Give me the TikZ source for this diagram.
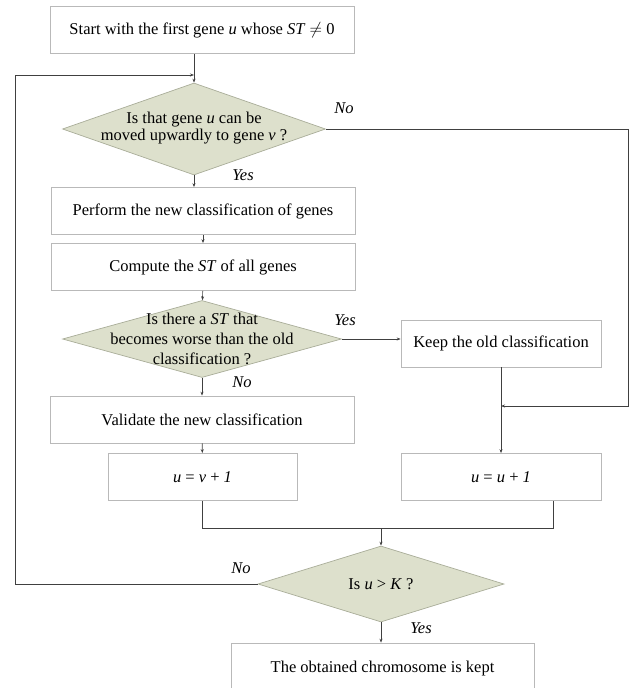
\documentclass[tikz,border=0pt]{standalone}
\usepackage{amsmath}
\usepackage{amssymb}
\usepackage{fontspec}
\setmainfont{Liberation Serif}
\usetikzlibrary{shapes.geometric,arrows.meta}
\definecolor{decfill}{HTML}{DDE0CC}
\definecolor{decline}{HTML}{A9AD99}
\tikzset{
  stepbox/.style={draw=gray!55,line width=0.7pt,fill=white,minimum width=304pt,minimum height=47pt,inner sep=0pt},
  decbox/.style={diamond,draw=decline,line width=0.7pt,fill=decfill,inner sep=0pt},
  dectext/.style={align=center,inner sep=0pt},
  flow/.style={draw=black!75,line width=0.7pt,-{Stealth[length=4pt,width=3pt]}},
  link/.style={draw=black!75,line width=0.7pt},
  answer/.style={font=\fontsize{16.5}{18}\selectfont\itshape,inner sep=0pt}
}
\begin{document}
\begin{tikzpicture}[x=1pt,y=-1pt,font=\fontsize{16.5}{19}\selectfont]
        \useasboundingbox (0,0) rectangle (636,688);
        \clip (0,0) rectangle (636,688);
        % left column
        \node[stepbox] (start) at (202,30) {Start with the first gene \textit{u} whose \textit{ST} $\neq$ 0};
        \node[decbox,minimum width=263pt,minimum height=92pt] (q1) at (194,129) {};
        \node[dectext,font=\fontsize{16.5}{16.5}\selectfont] (q1t) at (194,128) {Is that gene \textit{u} can be\\moved upwardly to gene \textit{v} ?};
        \node[stepbox] (perform) at (203,211) {Perform the new classification of genes};
        \node[stepbox] (compute) at (203,267) {Compute the \textit{ST} of all genes};
        \node[decbox,minimum width=279pt,minimum height=77pt] (q2) at (202,339) {};
        \node[dectext,font=\fontsize{16.5}{20}\selectfont] (q2t) at (202,339) {Is there a \textit{ST} that\\becomes worse than the old\\classification ?};
        \node[stepbox] (validate) at (202,419.5) {Validate the new classification};
        \node[stepbox,minimum width=189pt] (uv) at (202.5,477) {\textit{u} = \textit{v} + \textit{1}};
        % right column
        \node[stepbox,minimum width=200pt] (keep) at (501,343.5) {Keep the old classification};
        \node[stepbox,minimum width=200pt] (uu) at (501,477) {\textit{u} = \textit{u} + \textit{1}};
        % end test
        \node[decbox,minimum width=246pt,minimum height=76pt] (q3) at (381,584) {};
        \node[dectext] (q3t) at (381,584) {Is \textit{u} > \textit{K} ?};
        \node[stepbox,minimum width=303pt,minimum height=52pt] (final) at (382.5,669) {The obtained chromosome is kept};
        % answers
        \node[answer] (no1) at (344,108) {No};
        \node[answer] (yes1) at (243,175) {Yes};
        \node[answer] (yes2) at (345,320) {Yes};
        \node[answer] (no2) at (242,382) {No};
        \node[answer] (no3) at (241,568) {No};
        \node[answer] (yes3) at (421,628) {Yes};
        % connectors
        \coordinate (top) at (194,75);
        \coordinate (rloop) at (628,406);
        \coordinate (ml) at (202.5,528);
        \coordinate (mr) at (553,528);
        \coordinate (mc) at (381,528);
        \draw[flow] (q1.north |- start.south) -- (q1.north);
        \draw[flow] (q1.south) -- (perform.north -| q1.south);
        \draw[flow] (perform) -- (compute);
        \draw[flow] (compute) -- (q2);
        \draw[flow] (q2) -- (validate);
        \draw[flow] (validate) -- (uv);
        \draw[flow] (q2.east) -- (keep.west |- q2.east);
        \draw[flow] (keep) -- (uu);
        \draw[flow] (q1.east) -| (rloop) -- (keep.south |- rloop);
        \draw[link] (uv.south) -- (ml) -- (mr) -- (mr |- uu.south);
        \draw[flow] (mc) -- (q3.north);
        \draw[flow] (q3.south) -- (final.north -| q3.south);
        \draw[flow] (q3.west) -| (15,75) -- (top);
\end{tikzpicture}
\end{document}
